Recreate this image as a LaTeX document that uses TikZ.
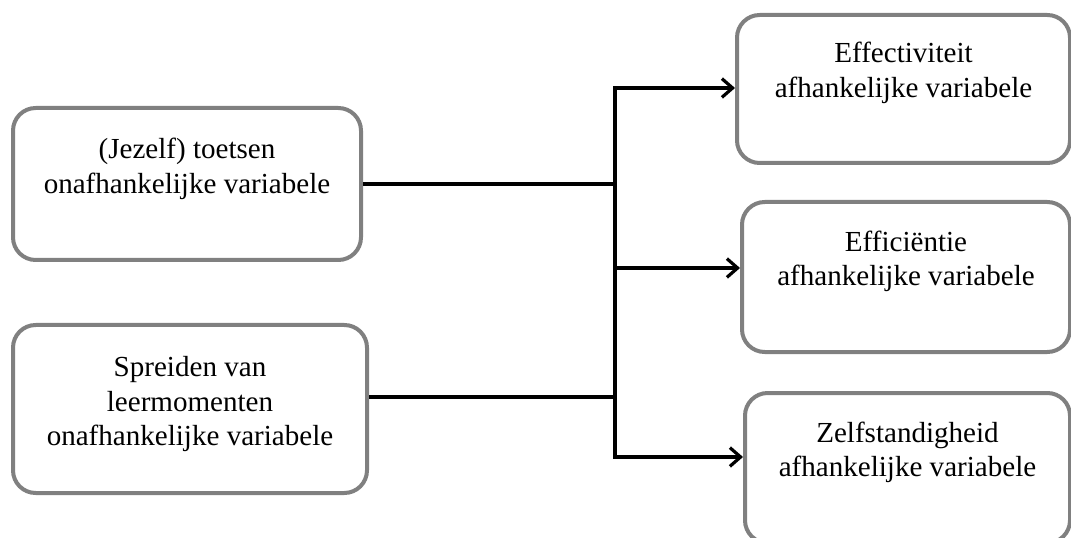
\documentclass[tikz,border=0pt]{standalone}
\usepackage{fontspec}
\setmainfont{Liberation Serif}
\usetikzlibrary{arrows.meta}

\begin{document}
\begin{tikzpicture}[x=0.75pt,y=-0.75pt,
    box/.style={draw=black!50,line width=3pt,rounded corners=17pt,fill=white},
    txt/.style={align=center,inner sep=0pt,font=\fontsize{21.8pt}{26pt}\selectfont},
    link/.style={line width=2.6pt},
    arrow/.style={link,-{Straight Barb[length=8pt,width=14pt,line width=2.4pt]}}]
  \useasboundingbox (0,0) rectangle (1071,538);

  %------ onafhankelijke variabelen
  \node[box,minimum width=348*0.75pt,minimum height=152*0.75pt] (toetsen) at (187,184) {};
  \node[txt] (toetsen-txt) at ([yshift=-47pt]toetsen.north) {(Jezelf) toetsen\\onafhankelijke variabele};

  \node[box,minimum width=354*0.75pt,minimum height=168*0.75pt] (spreiden) at (190,409) {};
  \node[txt] (spreiden-txt) at ([yshift=-61pt]spreiden.north) {Spreiden van\\leermomenten\\onafhankelijke variabele};

  %------ afhankelijke variabelen
  \node[box,minimum width=333*0.75pt,minimum height=148*0.75pt] (effect) at (903.5,89) {};
  \node[txt] (effect-txt) at ([yshift=-45pt]effect.north) {Effectiviteit\\afhankelijke variabele};

  \node[box,minimum width=328*0.75pt,minimum height=150*0.75pt] (effic) at (906,277) {};
  \node[txt] (effic-txt) at ([yshift=-46pt]effic.north) {Efficiëntie\\afhankelijke variabele};

  \node[box,minimum width=325*0.75pt,minimum height=150*0.75pt] (zelf) at (907.5,468) {};
  \node[txt] (zelf-txt) at ([yshift=-46pt]zelf.north) {Zelfstandigheid\\afhankelijke variabele};

  %------ verbindingen
  \coordinate (top) at (615,88);
  \coordinate (mid) at (615,268);
  \coordinate (bot) at (615,457);
  \coordinate (join) at (615,397);

  \draw[link] (toetsen.east) -- (toetsen.east -| top);
  \draw[link] (join -| spreiden.east) -- (join);
  \draw[link,line cap=rect] (top) -- (bot);

  \draw[arrow] (top) -- (top -| effect.west);
  \draw[arrow] (mid) -- (mid -| effic.west);
  \draw[arrow] (bot) -- (bot -| zelf.west);

\end{tikzpicture}
\end{document}
